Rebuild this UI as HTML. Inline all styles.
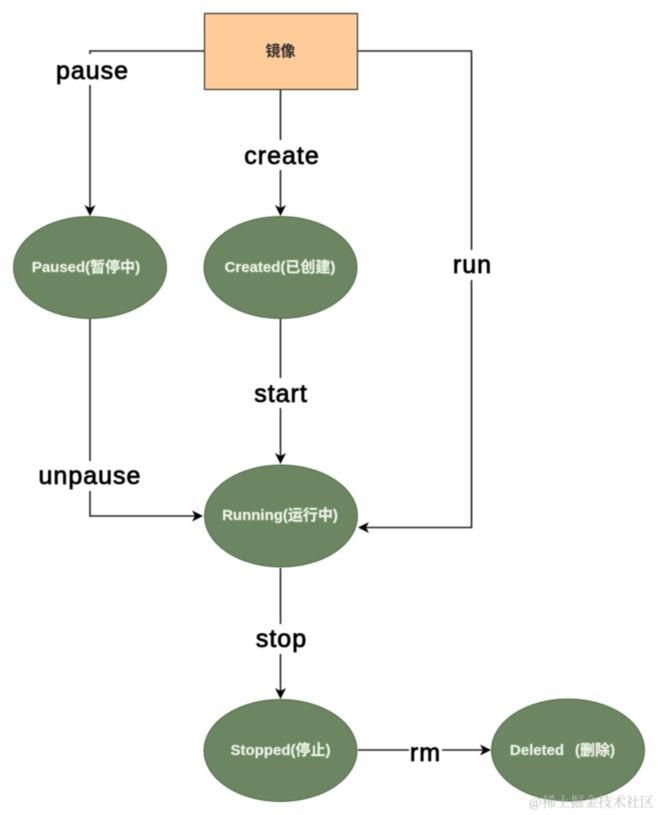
<!DOCTYPE html>
<html><head><meta charset="utf-8">
<style>
html,body{margin:0;padding:0;background:#fff;width:658px;height:815px;overflow:hidden}
svg{display:block;filter:blur(0.5px)}
.n{font-family:"Liberation Sans","Noto Sans CJK SC",sans-serif;font-size:15px;font-weight:bold;fill:#eef4e8;text-anchor:middle;stroke:#eef4e8;stroke-width:.25px}
.l{font-family:"Liberation Sans",sans-serif;font-size:25px;letter-spacing:1px;fill:#000;text-anchor:middle;stroke:#000;stroke-width:.8px}
.c{fill:none;stroke:#222;stroke-width:1.6}
.e{fill:#6b8660;stroke:#4f6b47;stroke-width:1}
.a{fill:#000}
</style></head><body>
<svg width="658" height="815" viewBox="0 0 658 815" xmlns="http://www.w3.org/2000/svg">
<rect x="204.500" y="13.500" width="153" height="76" fill="#ffcc99" stroke="#333" stroke-width="1.200"/>
<text x="280.500" y="56" style="font-family:'Liberation Sans','Noto Sans CJK SC',sans-serif;font-size:15px;font-weight:bold;fill:#2a2a2a;text-anchor:middle">镜像</text>

<path class="c" d="M204 51H90V208"/>
<path class="c" d="M280.500 90V208"/>
<path class="c" d="M358 51H471.500V527.500H366"/>
<path class="c" d="M90 318V516H196"/>
<path class="c" d="M280.500 319V457"/>
<path class="c" d="M280.500 568V692"/>
<path class="c" d="M358 750H483"/>

<path class="a" d="M90 216l-5.500-11 5.500 3 5.500-3z"/>
<path class="a" d="M280.500 216l-5.500-11 5.500 3 5.500-3z"/>
<path class="a" d="M280.500 464l-5.500-11 5.500 3 5.500-3z"/>
<path class="a" d="M280.500 699l-5.500-11 5.500 3 5.500-3z"/>
<path class="a" d="M203 516l-11-5.500 3 5.500-3 5.500z"/>
<path class="a" d="M358 527.500l11-5.500-3 5.500 3 5.500z"/>
<path class="a" d="M491 750l-11-5.500 3 5.500-3 5.500z"/>

<rect x="50" y="54" width="85" height="31" fill="#fff"/>
<text class="l" x="92.500" y="79">pause</text>
<rect x="240" y="140" width="85" height="30" fill="#fff"/>
<text class="l" x="282" y="164">create</text>
<rect x="447" y="250" width="50" height="30" fill="#fff"/>
<text class="l" x="472.500" y="273">run</text>
<rect x="248" y="378" width="66" height="30" fill="#fff"/>
<text class="l" x="281" y="402">start</text>
<rect x="34" y="461" width="112" height="30" fill="#fff"/>
<text class="l" x="90" y="484">unpause</text>
<rect x="250" y="624" width="62" height="30" fill="#fff"/>
<text class="l" x="281.500" y="647">stop</text>
<rect x="409" y="738" width="33" height="26" fill="#fff"/>
<text class="l" x="425.500" y="761">rm</text>

<ellipse class="e" cx="90" cy="267.500" rx="76.500" ry="51"/>
<ellipse class="e" cx="280.500" cy="267.500" rx="76.500" ry="51"/>
<ellipse class="e" cx="281" cy="516" rx="76.500" ry="51"/>
<ellipse class="e" cx="280.500" cy="750.500" rx="76.500" ry="51"/>
<ellipse class="e" cx="568" cy="750" rx="76.500" ry="51"/>

<text class="n" x="86" y="272">Paused(暂停中)</text>
<text class="n" x="280" y="272">Created(已创建)</text>
<text class="n" x="280" y="520">Running(运行中)</text>
<text class="n" x="280.500" y="755">Stopped(停止)</text>
<text class="n" x="537" y="755">Deleted</text>
<text class="n" x="595" y="755">(删除)</text>

<text x="591.500" y="807" style="font-family:'Liberation Serif','Noto Serif CJK SC',serif;font-size:14px;fill:#bdbdbd;text-anchor:middle">@稀土掘金技术社区</text>
</svg>
</body></html>
